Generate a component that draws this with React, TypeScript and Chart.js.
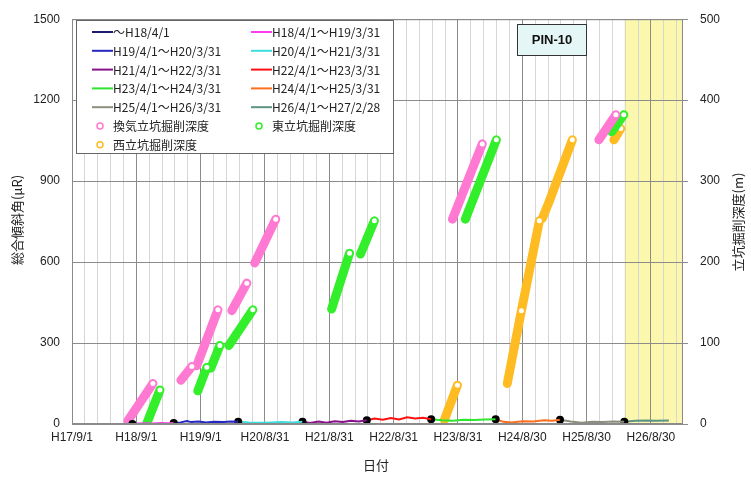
import React, { useEffect, useRef } from 'react';
import { Chart, registerables } from 'chart.js';

Chart.register(...registerables);

// Date axis: days counted from the first tick, ticks every 365 days
const AXIS_START = '2005-09-01';
const AXIS_END = '2015-02-28';
const SHADE_START = '2014-04-01';
const xTickLabels = [
  'H17/9/1', 'H18/9/1', 'H19/9/1', 'H20/8/31', 'H21/8/31',
  'H22/8/31', 'H23/8/31', 'H24/8/30', 'H25/8/30', 'H26/8/30',
];
const MAJOR_STEP = 365;
const MINOR_PER_MAJOR = 5;

// Tilt (μR) per fiscal period: [date, value]
type Pt = [string, number];
const tiltBefore: Pt[] = [];
const tiltH18: Pt[] = [
  ['2006-08-10', 0], ['2006-09-15', 2], ['2006-10-20', 3], ['2006-12-01', 2],
  ['2007-01-20', 4], ['2007-03-01', 3], ['2007-03-31', 4],
];
const tiltH19: Pt[] = [
  ['2007-04-01', 4], ['2007-05-10', 6], ['2007-06-15', 11], ['2007-07-10', 7],
  ['2007-08-20', 9], ['2007-10-01', 6], ['2007-11-15', 8], ['2008-01-10', 7],
  ['2008-02-20', 9], ['2008-03-31', 8],
];
const tiltH20: Pt[] = [
  ['2008-04-01', 8], ['2008-06-01', 6], ['2008-08-01', 5], ['2008-10-01', 6],
  ['2008-12-01', 7], ['2009-02-01', 6], ['2009-03-31', 8],
];
const tiltH21: Pt[] = [
  ['2009-04-01', 8], ['2009-05-15', 4], ['2009-07-01', 9], ['2009-08-15', 5],
  ['2009-10-01', 10], ['2009-11-15', 7], ['2010-01-01', 12], ['2010-02-15', 9],
  ['2010-03-31', 14],
];
const tiltH22: Pt[] = [
  ['2010-04-01', 14], ['2010-05-15', 20], ['2010-07-01', 16], ['2010-08-15', 22],
  ['2010-10-01', 17], ['2010-11-15', 25], ['2011-01-01', 20], ['2011-02-15', 23],
  ['2011-03-31', 18],
];
const tiltH23: Pt[] = [
  ['2011-04-01', 18], ['2011-06-01', 14], ['2011-08-01', 12], ['2011-10-01', 16],
  ['2011-12-01', 15], ['2012-02-01', 17], ['2012-03-31', 18],
];
const tiltH24: Pt[] = [
  ['2012-04-01', 18], ['2012-05-15', 8], ['2012-07-01', 6], ['2012-09-01', 10],
  ['2012-11-01', 9], ['2013-01-01', 14], ['2013-02-15', 12], ['2013-03-31', 16],
];
const tiltH25: Pt[] = [
  ['2013-04-01', 16], ['2013-06-01', 9], ['2013-08-01', 5], ['2013-10-01', 8],
  ['2013-12-01', 7], ['2014-02-01', 9], ['2014-03-31', 8],
];
const tiltH26: Pt[] = [
  ['2014-04-01', 8], ['2014-06-01', 12], ['2014-08-01', 13], ['2014-10-01', 12],
  ['2014-12-10', 13],
];

const periodLabels = [
  '～H18/4/1', 'H18/4/1～H19/3/31', 'H19/4/1～H20/3/31', 'H20/4/1～H21/3/31',
  'H21/4/1～H22/3/31', 'H22/4/1～H23/3/31', 'H23/4/1～H24/3/31', 'H24/4/1～H25/3/31',
  'H25/4/1～H26/3/31', 'H26/4/1～H27/2/28',
];
const periodColors = [
  '#1c1c70', '#ff3cf0', '#2626c0', '#3fdede', '#86118a',
  '#ff1010', '#2ee62e', '#ff6e1e', '#8e8e7e', '#5c9484',
];
const periodSeries = [
  tiltBefore, tiltH18, tiltH19, tiltH20, tiltH21,
  tiltH22, tiltH23, tiltH24, tiltH25, tiltH26,
];

// Shaft excavation depth (m): runs of continuous progress
const ventShaftRuns: Pt[][] = [
  [['2006-07-15', 4], ['2006-12-04', 50]],
  [['2007-05-12', 54], ['2007-07-13', 71]],
  [['2007-08-10', 72], ['2007-12-08', 141]],
  [['2008-02-25', 140], ['2008-05-20', 174]],
  [['2008-07-04', 199], ['2008-10-31', 253]],
  [['2011-07-31', 253], ['2012-01-16', 346]],
  [['2013-11-08', 351], ['2014-02-12', 382]],
];
const eastShaftRuns: Pt[][] = [
  [['2006-10-31', 1], ['2007-01-13', 42]],
  [['2007-08-16', 41], ['2007-10-06', 70]],
  [['2007-10-29', 69], ['2007-12-19', 97]],
  [['2008-02-08', 97], ['2008-06-23', 141]],
  [['2009-09-13', 142], ['2009-12-24', 211]],
  [['2010-02-24', 210], ['2010-05-14', 251]],
  [['2011-10-12', 253], ['2012-04-05', 351]],
  [['2014-01-20', 361], ['2014-03-29', 382]],
];
const westShaftRuns: Pt[][] = [
  [['2011-06-15', 5], ['2011-08-28', 48]],
  [['2012-06-06', 50], ['2012-08-25', 140]],
  [['2012-08-26', 141], ['2012-12-05', 251]],
  [['2012-12-22', 254], ['2013-01-30', 275], ['2013-06-10', 351]],
  [['2014-02-01', 351], ['2014-03-12', 365]],
];
const shaftLabels = ['換気立坑掘削深度', '東立坑掘削深度', '西立坑掘削深度'];
const shaftColors = ['#ff78d2', '#33ee2a', '#ffbb22'];
const shaftSeries = [ventShaftRuns, eastShaftRuns, westShaftRuns];

const STATION = 'PIN-10';

const startMs = Date.parse(AXIS_START);
const dayOf = (iso: string) => Math.round((Date.parse(iso) - startMs) / 86400000);

const FONT = '"Liberation Sans", Arial, "Noto Sans CJK JP", sans-serif';
const CJK = '"Noto Sans CJK JP", "Liberation Sans", sans-serif';

function runsToData(runs: Pt[][]) {
  const out: { x: number; y: number | null; end?: boolean }[] = [];
  runs.forEach((run, r) => {
    if (r > 0) out.push({ x: dayOf(run[0][0]) - 0.5, y: null });
    run.forEach(([d, v], i) => out.push({ x: dayOf(d), y: v, end: i === run.length - 1 }));
  });
  return out;
}

const framePlugin = {
  id: 'frameAndLegend',
  beforeDraw(chart: any) {
    const { ctx, chartArea, scales } = chart;
    const x0 = scales.x.getPixelForValue(dayOf(SHADE_START));
    ctx.save();
    ctx.fillStyle = '#fbf8ae';
    ctx.fillRect(x0, chartArea.top, chartArea.right - x0, chartArea.bottom - chartArea.top);
    ctx.restore();
  },
  afterDraw(chart: any) {
    const { ctx, chartArea } = chart;
    ctx.save();
    // plot frame
    ctx.strokeStyle = '#8a8a8a';
    ctx.lineWidth = 1;
    ctx.strokeRect(chartArea.left + 0.5, chartArea.top + 0.5,
      chartArea.right - chartArea.left - 1, chartArea.bottom - chartArea.top - 1);

    // legend box
    ctx.fillStyle = '#ffffff';
    ctx.fillRect(76, 20, 317, 133);
    ctx.strokeStyle = '#666';
    ctx.strokeRect(76.5, 20.5, 317, 133);
    const colX = [92, 251];
    ctx.font = `12px ${CJK}`;
    ctx.textBaseline = 'middle';
    ctx.textAlign = 'left';
    chart.data.datasets.forEach((ds: any, i: number) => {
      const cx = colX[i % 2];
      const cy = 32 + Math.floor(i / 2) * 18.8;
      if (ds.yAxisID === 'yDepth') {
        ctx.beginPath();
        ctx.arc(cx + 8, cy, 3, 0, Math.PI * 2);
        ctx.fillStyle = '#fff';
        ctx.fill();
        ctx.strokeStyle = ds.borderColor;
        ctx.lineWidth = 1.5;
        ctx.stroke();
      } else {
        ctx.beginPath();
        ctx.moveTo(cx, cy);
        ctx.lineTo(cx + 21, cy);
        ctx.strokeStyle = ds.borderColor;
        ctx.lineWidth = 2;
        ctx.stroke();
      }
      ctx.fillStyle = '#222';
      ctx.fillText(ds.label, cx + 21, cy + 0.5);
    });

    // station box
    ctx.fillStyle = '#e4f6f6';
    ctx.fillRect(517, 24, 69, 31);
    ctx.strokeStyle = '#333';
    ctx.lineWidth = 1;
    ctx.strokeRect(517.5, 24.5, 69, 31);
    ctx.fillStyle = '#111';
    ctx.font = `bold 13px ${FONT}`;
    ctx.textAlign = 'center';
    ctx.fillText(STATION, 552, 40.5);

    // axis titles
    ctx.font = `13px ${CJK}`;
    ctx.fillStyle = '#222';
    ctx.save();
    ctx.translate(17, 220);
    ctx.rotate(-Math.PI / 2);
    ctx.fillText('総合傾斜角(μR)', 0, 0);
    ctx.restore();
    ctx.save();
    ctx.translate(738, 222);
    ctx.rotate(-Math.PI / 2);
    ctx.fillText('立坑掘削深度(m)', 0, 0);
    ctx.restore();
    ctx.fillText('日付', 376, 465);
    ctx.restore();
  },
};

export default function App() {
  const ref = useRef<HTMLCanvasElement | null>(null);

  useEffect(() => {
    if (!ref.current) return;
    const tiltSets = periodSeries.map((series, i) => ({
      type: 'line' as const,
      label: periodLabels[i],
      yAxisID: 'yTilt',
      data: series.map(([d, v]) => ({ x: dayOf(d), y: v })),
      borderColor: periodColors[i],
      backgroundColor: periodColors[i],
      borderWidth: 2,
      tension: 0,
      pointRadius: (c: any) => (c.dataIndex === 0 ? 4 : 0),
      pointBackgroundColor: '#000',
      pointBorderColor: '#000',
      pointBorderWidth: 0,
    }));
    const depthSets = shaftSeries.map((runs, i) => ({
      type: 'line' as const,
      label: shaftLabels[i],
      yAxisID: 'yDepth',
      data: runsToData(runs),
      borderColor: shaftColors[i],
      backgroundColor: '#ffffff',
      borderWidth: 9,
      borderCapStyle: 'round' as const,
      borderJoinStyle: 'round' as const,
      spanGaps: false,
      tension: 0,
      pointRadius: (c: any) => (c.raw && c.raw.end ? 2.5 : 0),
      pointBackgroundColor: '#ffffff',
      pointBorderWidth: 0,
    }));

    const lastDay = dayOf(AXIS_END);
    const chart = new Chart(ref.current, {
      type: 'line',
      data: { datasets: [...tiltSets, ...depthSets] as any },
      options: {
        animation: false,
        responsive: false,
        devicePixelRatio: 1,
        layout: { padding: { top: 16, left: 0, right: 0, bottom: 0 } },
        plugins: { legend: { display: false }, tooltip: { enabled: false } },
        scales: {
          x: {
            type: 'linear',
            min: 0,
            max: lastDay,
            afterBuildTicks: (scale: any) => {
              const ticks = [];
              for (let v = 0; v <= lastDay; v += MAJOR_STEP / MINOR_PER_MAJOR) ticks.push({ value: v });
              scale.ticks = ticks;
            },
            afterFit: (scale: any) => { scale.height = 55; },
            ticks: {
              autoSkip: false,
              maxRotation: 0,
              padding: 6,
              color: '#222',
              font: { family: FONT, size: 12 },
              callback: (_v: any, idx: number) =>
                idx % MINOR_PER_MAJOR === 0 ? xTickLabels[idx / MINOR_PER_MAJOR] ?? '' : '',
            },
            grid: {
              drawTicks: false,
              color: (c: any) => (c.index % MINOR_PER_MAJOR === 0 ? '#8c8c8c' : '#d6d6d6'),
            },
            border: { display: false },
          },
          yTilt: {
            type: 'linear',
            position: 'left',
            min: 0,
            max: 1500,
            afterFit: (scale: any) => { scale.width = 72; },
            ticks: {
              stepSize: 300, padding: 12, color: '#222', font: { family: FONT, size: 12 },
              callback: (v: any) => String(v),
            },
            grid: { drawTicks: false, color: '#8c8c8c' },
            border: { display: false },
          },
          yDepth: {
            type: 'linear',
            position: 'right',
            min: 0,
            max: 500,
            afterFit: (scale: any) => { scale.width = 68; },
            ticks: {
              stepSize: 100, padding: 12, color: '#222', font: { family: FONT, size: 12 },
              callback: (v: any) => String(v),
            },
            grid: { drawOnChartArea: false, drawTicks: true, tickLength: 5, color: '#8c8c8c' },
            border: { display: false },
          },
        },
      },
      plugins: [framePlugin],
    });
    return () => chart.destroy();
  }, []);

  return (
    <div style={{ position: 'absolute', left: 0, top: 0, width: 751, height: 479, background: '#fff' }}>
      <canvas ref={ref} width={751} height={479} />
    </div>
  );
}
